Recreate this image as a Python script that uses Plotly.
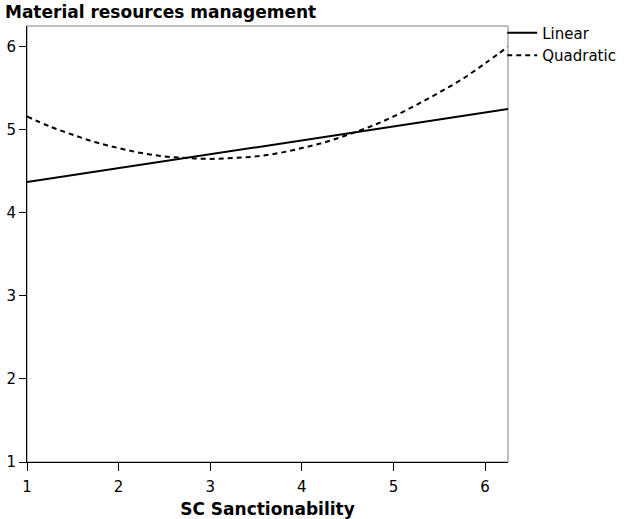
import plotly.graph_objects as go

# Data
linear_x = [1.0, 6.25]
linear_y = [4.37, 5.25]

quad_x = [1.0, 1.25, 1.5, 1.75, 2.0, 2.25, 2.5, 2.75, 3.0, 3.25, 3.5,
          3.75, 4.0, 4.25, 4.5, 4.75, 5.0, 5.25, 5.5, 5.75, 6.0, 6.25]
quad_y = [5.16, 5.04, 4.94, 4.85, 4.78, 4.72, 4.68, 4.66, 4.65, 4.66, 4.68,
          4.72, 4.78, 4.85, 4.94, 5.04, 5.16, 5.30, 5.45, 5.61, 5.80, 6.00]

x_ticks = [1, 2, 3, 4, 5, 6]
y_ticks = [1, 2, 3, 4, 5, 6]

title_text = "Material resources management"
x_title = "SC Sanctionability"

FONT = "DejaVu Sans, Verdana, sans-serif"

fig = go.Figure()
fig.add_trace(go.Scatter(x=linear_x, y=linear_y, mode="lines", name="Linear",
                         line=dict(color="black", width=2)))
fig.add_trace(go.Scatter(x=quad_x, y=quad_y, mode="lines", name="Quadratic",
                         line=dict(color="black", width=2, dash="5px,4px", shape="spline")))

fig.update_layout(
    width=624, height=519,
    margin=dict(l=27, r=116, t=26, b=57, autoexpand=False),
    paper_bgcolor="white", plot_bgcolor="white",
    font=dict(family=FONT, size=15, color="black"),
    title=dict(text="<b>" + title_text + "</b>", x=0.008, xanchor="left",
               y=0.977, yanchor="middle", font=dict(size=17, family=FONT)),
    showlegend=True,
    legend=dict(x=0.988, xanchor="left", y=1.022, yanchor="top",
                bgcolor="rgba(0,0,0,0)", borderwidth=0,
                font=dict(size=15, family=FONT), itemwidth=30,
                tracegroupgap=0),
    xaxis=dict(range=[1, 6.25], tickvals=x_ticks, ticktext=[str(v) for v in x_ticks],
               showgrid=False, zeroline=False, showline=True, linecolor="black",
               linewidth=1, ticks="outside", ticklen=8, tickcolor="black",
               tickfont=dict(size=15), automargin=False, ticklabelstandoff=3,
               title=dict(text="<b>" + x_title + "</b>", font=dict(size=17), standoff=10)),
    yaxis=dict(range=[1, 6.25], tickvals=y_ticks, ticktext=[str(v) for v in y_ticks],
               showgrid=False, zeroline=False, showline=True, linecolor="black",
               linewidth=1, ticks="outside", ticklen=7, tickcolor="black",
               tickfont=dict(size=15), automargin=False),
    shapes=[dict(type="rect", xref="paper", yref="paper", x0=0, x1=1, y0=0, y1=1,
                 line=dict(color="#808080", width=1), layer="below")],
)

fig.write_html("out.html", config={"displayModeBar": False},
               post_script="document.body.style.margin='0px';document.body.style.overflow='hidden';")
